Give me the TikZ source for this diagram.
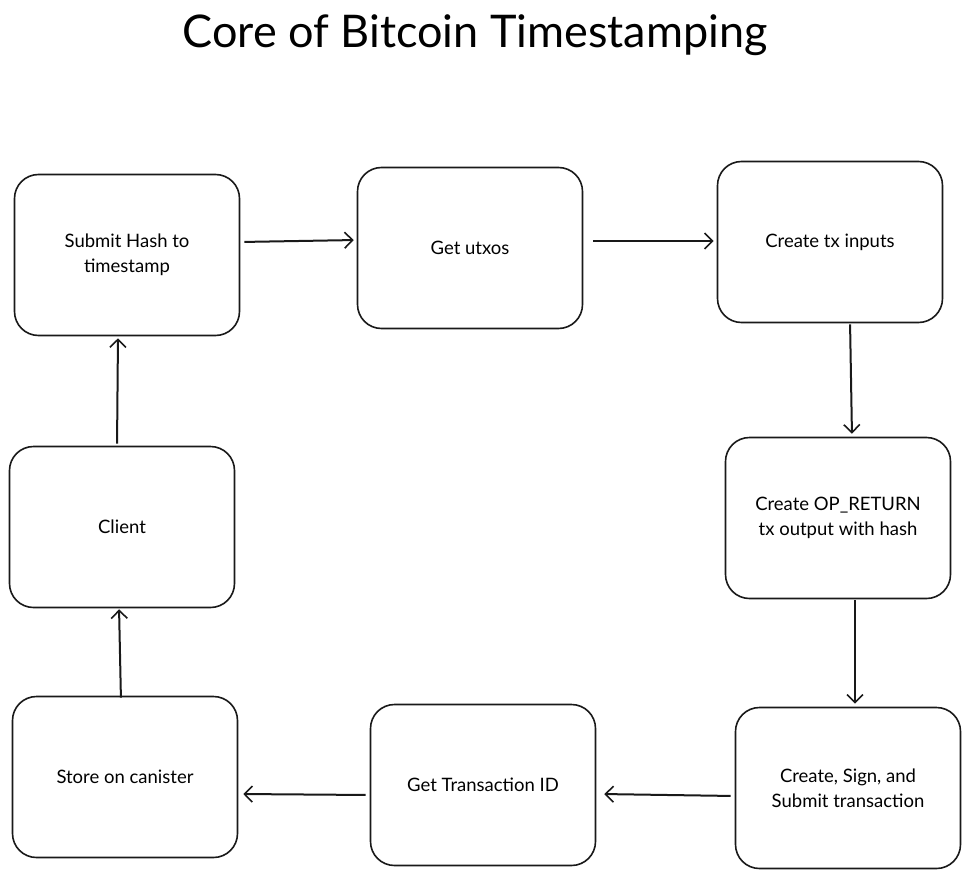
\documentclass[tikz,border=0pt]{standalone}
\usepackage{fontspec}
\setmainfont{Lato}
\usetikzlibrary{arrows.meta}
\tikzset{
  box/.style={draw=black!90, line width=1.6pt, rounded corners=24pt, minimum width=225pt, minimum height=161pt, align=center, font=\fontsize{18.5}{25}\selectfont, inner sep=4pt},
  conn/.style={draw=black!90, line width=2pt, -{Straight Barb[length=8pt,width=16pt,line width=1.6pt]}, shorten <=4pt, shorten >=3pt}
}
\begin{document}
\begin{tikzpicture}[x=1pt,y=-1pt]
\useasboundingbox (0,0) rectangle (971,880);
\node (title) at (475,35) {\fontsize{45}{52}\selectfont Core of Bitcoin Timestamping};
\node[box] (submit) at (127,255) {Submit Hash to\\timestamp};
\node[box] (utxos) at (470,248) {Get utxos};
\node[box] (inputs) at (830,242) {Create tx inputs};
\node[box] (opret) at (838,518) {Create OP\_RETURN\\tx output with hash};
\node[box] (sign) at (848,788) {Create, Sign, and\\Submit transaction};
\node[box] (txid) at (483,785) {Get Transaction ID};
\node[box] (store) at (125,777) {Store on canister};
\node[box] (client) at (122,527) {Client};
\draw[conn] (submit.east |- 0,242) -- (utxos.west |- 0,240);
\draw[conn] ([xshift=6pt]utxos.east |- 0,241) -- (inputs.west |- 0,241);
\draw[conn] ([yshift=3pt]inputs.south -| 850,0) -- (opret.north -| 852,0);
\draw[conn] ([yshift=3pt]opret.south -| 855,0) -- (sign.north -| 855,0);
\draw[conn] (sign.west |- 0,796) -- ([xshift=5pt]txid.east |- 0,794);
\draw[conn] (txid.west |- 0,795) -- ([xshift=2pt]store.east |- 0,794);
\draw[conn] ([yshift=-6pt]store.north -| 121,0) -- ([yshift=2pt]client.south -| 119,0);
\draw[conn] ([yshift=-2pt]client.north -| 117,0) -- ([yshift=1pt]submit.south -| 118,0);
\end{tikzpicture}
\end{document}
